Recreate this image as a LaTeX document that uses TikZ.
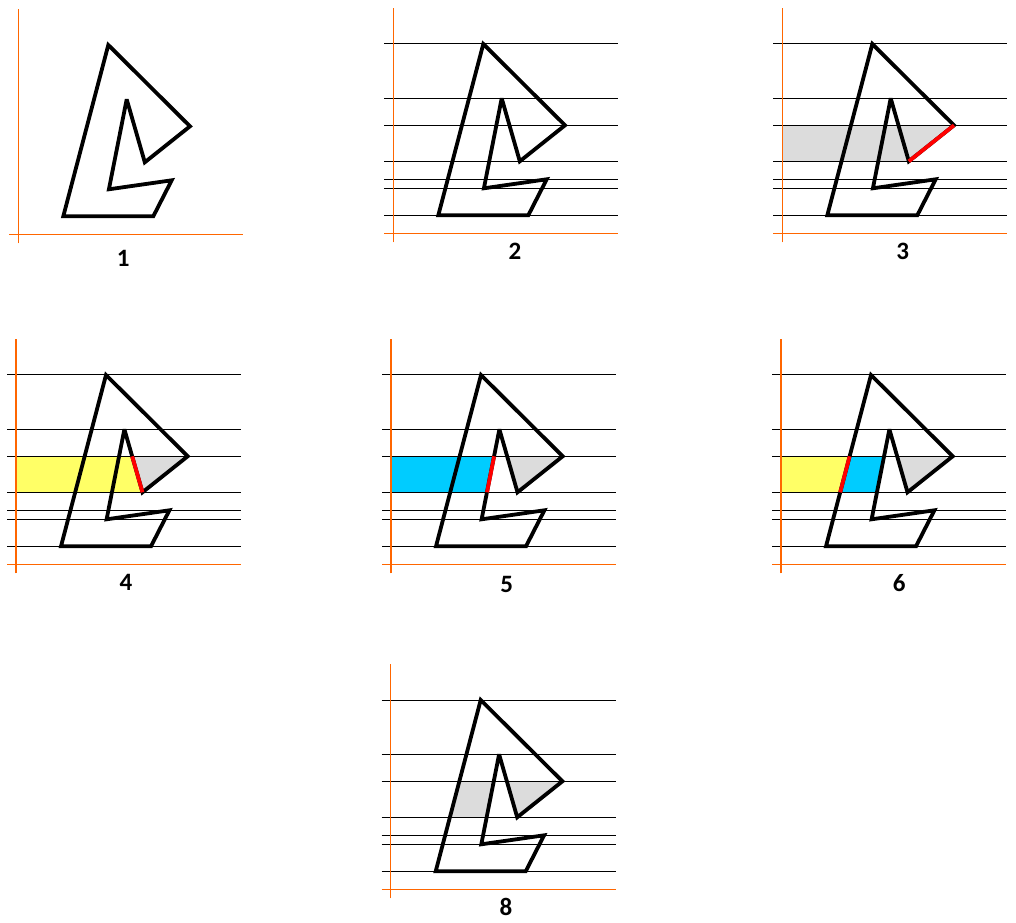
\documentclass[tikz,border=0pt]{standalone}
\usepackage{fontspec}
\setmainfont{Carlito}
\definecolor{axisor}{HTML}{FF6600}
\definecolor{yel}{HTML}{FFFF66}
\definecolor{cyanb}{HTML}{00CCFF}
\definecolor{lgray}{HTML}{DCDCDC}
\definecolor{redl}{HTML}{FF0000}
\tikzset{
  axisline/.style={draw=axisor, line width=1.2pt},
  hline/.style={draw=black, line width=1pt},
  shapeline/.style={draw=black, line width=3.8pt, line join=miter, miter limit=4},
  redseg/.style={draw=redl, line width=3.8pt},
  lbl/.style={font=\bfseries\fontsize{25}{25}\selectfont, inner sep=0pt},
}
% local coordinates of the polygon
\newcommand{\pA}{(90,189.3)}
\newcommand{\pB}{(171.7,108)}
\newcommand{\pC}{(126.5,72)}
\newcommand{\pD}{(108.4,135)}
\newcommand{\pE}{(90.6,45)}
\newcommand{\pF}{(153.4,54)}
\newcommand{\pG}{(135,18)}
\newcommand{\pH}{(45,18)}
\newcommand{\polyshape}{\draw[shapeline] \pA -- \pB -- \pC -- \pD -- \pE -- \pF -- \pG -- \pH -- cycle;}
\newcommand{\axes}{%
  \draw[axisline] (0,-9) -- (0,225);
  \draw[axisline] (-9,0) -- (225,0);}
\newcommand{\hlines}{%
  \foreach \yy in {189.3,135,108,72,54,45,18} {\draw[hline] (-9,\yy) -- (225,\yy);}}
\begin{document}
\begin{tikzpicture}[x=1pt,y=1pt]
\useasboundingbox (0,0) rectangle (1016,922);
% ---------- panel 1
\begin{scope}[shift={(18.3,687.7)}]
  \axes
  \polyshape
  \node[lbl] (l1) at (105,-24) {1};
\end{scope}
% ---------- panel 2
\begin{scope}[shift={(393.3,688.7)}]
  \hlines
  \axes
  \polyshape
  \node[lbl] (l2) at (121.7,-18.3) {2};
\end{scope}
% ---------- panel 3
\begin{scope}[shift={(782.3,688.7)}]
  \fill[lgray] (0,108) -- \pB -- \pC -- (0,72) -- cycle;
  \hlines
  \axes
  \polyshape
  \draw[redseg] \pB -- \pC;
  \node[lbl] (l3) at (120.3,-18.3) {3};
\end{scope}
% ---------- panel 4
\begin{scope}[shift={(16,357.7)}]
  \fill[yel] (0,108) -- (116.2,108) -- \pC -- (0,72) -- cycle;
  \fill[lgray] (116.2,108) -- \pB -- \pC -- cycle;
  \hlines
  \axes
  \polyshape
  \draw[redseg] (116.2,108) -- \pC;
  \node[lbl] (l4) at (110,-18) {4};
\end{scope}
% ---------- panel 5
\begin{scope}[shift={(391,357.7)}]
  \fill[cyanb] (0,108) -- (103.1,108) -- (96.0,72) -- (0,72) -- cycle;
  \fill[lgray] (116.2,108) -- \pB -- \pC -- cycle;
  \hlines
  \axes
  \polyshape
  \draw[redseg] (103.1,108) -- (96.0,72);
  \node[lbl] (l5) at (115.7,-20) {5};
\end{scope}
% ---------- panel 6
\begin{scope}[shift={(781,357.7)}]
  \fill[yel] (0,108) -- (68.6,108) -- (59.2,72) -- (0,72) -- cycle;
  \fill[cyanb] (68.6,108) -- (103.1,108) -- (96.0,72) -- (59.2,72) -- cycle;
  \fill[lgray] (116.2,108) -- \pB -- \pC -- cycle;
  \hlines
  \axes
  \polyshape
  \draw[redseg] (68.6,108) -- (59.2,72);
  \node[lbl] (l6) at (118.3,-19) {6};
\end{scope}
% ---------- panel 8
\begin{scope}[shift={(390.7,32.7)}]
  \fill[lgray] (68.6,108) -- (103.1,108) -- (96.0,72) -- (59.2,72) -- cycle;
  \fill[lgray] (116.2,108) -- \pB -- \pC -- cycle;
  \hlines
  \axes
  \polyshape
  \node[lbl] (l8) at (115.3,-18) {8};
\end{scope}
\end{tikzpicture}
\end{document}
